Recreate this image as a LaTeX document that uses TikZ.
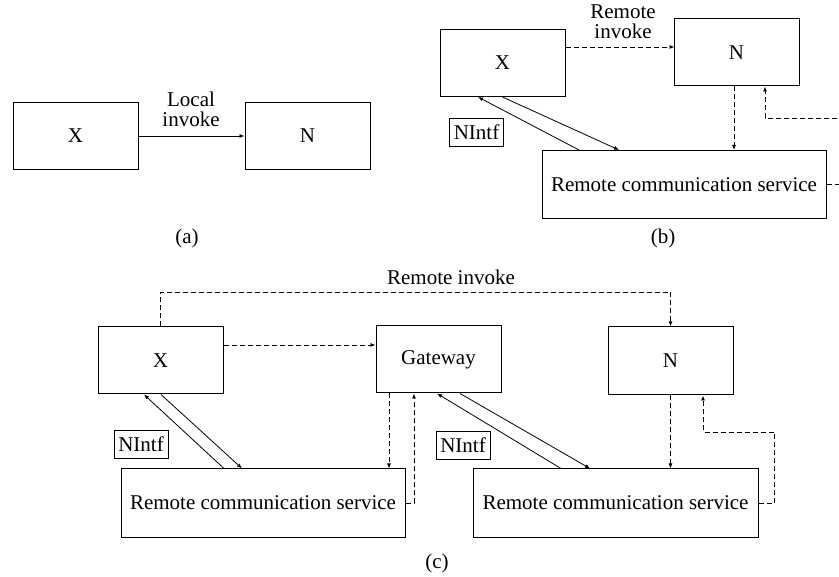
\documentclass[tikz,border=0pt]{standalone}
\usepackage{fontspec}
\setmainfont{Liberation Serif}
\usetikzlibrary{calc,arrows.meta}
\begin{document}
\begin{tikzpicture}[x=1pt,y=-1pt,
  font=\fontsize{21}{20}\selectfont,
  box/.style={draw,line width=1pt,inner sep=0pt,minimum width=125pt,minimum height=67pt},
  widebox/.style={draw,line width=1pt,inner sep=0pt,minimum width=284pt,minimum height=68pt},
  tag/.style={draw,line width=0.8pt,inner sep=0pt,minimum width=54pt,minimum height=28pt},
  lbl/.style={align=center,inner sep=0pt},
  conn/.style={line width=0.8pt,-{Latex[length=5pt,width=4pt]}},
  dconn/.style={conn,dash pattern=on 5pt off 3pt}]
\useasboundingbox (0,0) rectangle (839,577);

% (a) local invocation
\node[box] (Xa) at (75.5,136) {X};
\node[box] (Na) at (307.5,136) {N};
\draw[conn] (Xa.east) -- (Na.west);
\node[lbl] (La) at (191,109) {Local\\invoke};
\node[lbl] (capa) at (187,238) {(a)};

% (b) remote invocation through the communication service
\node[box] (Xb) at (502.5,63) {X};
\node[box] (Nb) at (736.5,52.5) {N};
\node[widebox] (Rb) at (684,184.5) {Remote communication service};
\node[tag] (Ib) at (476.5,132.5) {NIntf};
\node[lbl] (Lb) at (623,22) {Remote\\invoke};
\node[lbl] (capb) at (663,238) {(b)};
\draw[dconn] ($(Xb.east)+(0,-16)$) -- ($(Xb.east)+(109,-16)$);
\draw[conn] (Xb.south) -- ($(Rb.north)+(-65,0)$);
\draw[conn] ($(Rb.north)+(-105,0)$) -- ($(Xb.south)+(-24.5,0)$);
\draw[dconn] ($(Nb.south)+(-2.5,0)$) -- ($(Rb.north)+(50,0)$);
\coordinate (edgeA) at (845,184.5);
\coordinate (edgeB) at (845,118);
\draw[dconn,-] (Rb.east) -- (edgeA);
\draw[dconn] (edgeB) -| ($(Nb.south)+(28.5,0)$);

% (c) remote invocation through a gateway
\node[box] (Xc) at (160.5,360.5) {X};
\node[box] (Gw) at (438.5,359.5) {Gateway};
\node[box,minimum height=68pt] (Nc) at (670.5,361) {N};
\node[widebox] (Rc1) at (263,503) {Remote communication service};
\node[widebox,minimum width=285pt] (Rc2) at (615.5,503) {Remote communication service};
\node[tag] (Ic1) at (141,444) {NIntf};
\node[tag] (Ic2) at (463,445.5) {NIntf};
\node[lbl] (Lc) at (451,277) {Remote invoke};
\node[lbl] (capc) at (437,563) {(c)};

\draw[dconn] (Xc.north) -- ++(0,-34) -| (Nc.north);
\draw[dconn] ($(Xc.east)+(0,-15.5)$) -- ($(Gw.west)+(0,-14.5)$);

\draw[conn] ($(Xc.south)+(0.5,0)$) -- ($(Rc1.north)+(-21,0)$);
\draw[conn] ($(Rc1.north)+(-39,0)$) -- ($(Xc.south)+(-16.5,0)$);
\draw[dconn] ($(Gw.south)+(-49.5,0)$) -- ($(Rc1.north)+(126,0)$);
\draw[dconn] (Rc1.east) -| ($(Gw.south)+(-24.5,0)$);

\draw[conn] ($(Gw.south)+(21.5,0)$) -- ($(Rc2.north)+(-25.5,0)$);
\draw[conn] ($(Rc2.north)+(-54.5,0)$) -- ($(Gw.south)+(-1.5,0)$);
\draw[dconn] (Nc.south) -- ($(Rc2.north)+(55,0)$);
\draw[dconn] (Rc2.east) -- ++(16,0) -- ++(0,-71) -| ($(Nc.south)+(32.5,0)$);
\end{tikzpicture}
\end{document}
